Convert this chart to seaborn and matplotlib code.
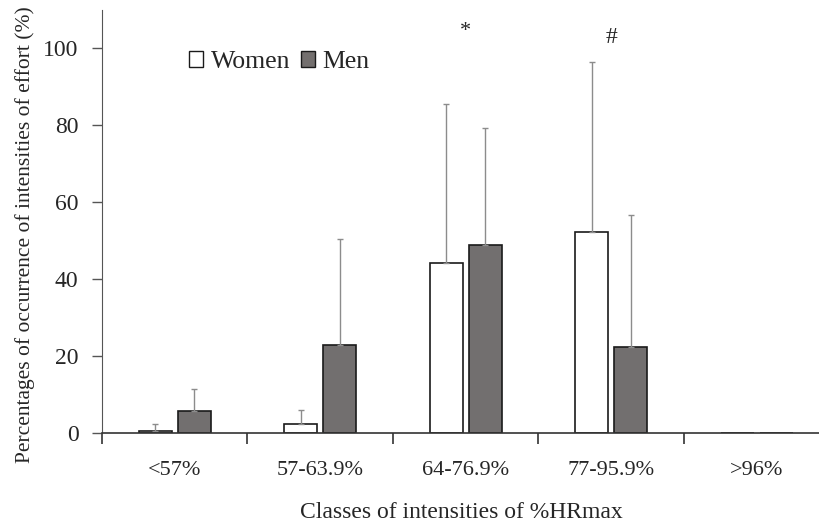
import numpy as np
import pandas as pd
import matplotlib
matplotlib.use('Agg')
import matplotlib.pyplot as plt
import seaborn as sns
from matplotlib.patches import Patch

# Data
classes = ['<57%', '57-63.9%', '64-76.9%', '77-95.9%', '>96%']
women = [0.6, 2.3, 44.3, 52.3, 0.0]
men = [5.8, 23.0, 48.8, 22.3, 0.0]
women_sd = [1.7, 3.6, 41.2, 44.1, 0.0]
men_sd = [5.7, 27.4, 30.4, 34.5, 0.0]
marks = ['', '', '*', '#', '']

df = pd.DataFrame({
    'Class': classes * 2,
    'Pct': women + men,
    'Sex': ['Women'] * len(classes) + ['Men'] * len(classes),
})

sns.set_style('ticks')
plt.rcParams['font.family'] = ['Liberation Serif', 'DejaVu Serif']

fig = plt.figure(figsize=(8.2, 5.25), dpi=100)
ax = fig.add_axes([0.1244, 0.1752, 0.8756, 0.8057])

colors = {'Women': 'white', 'Men': '#736f6e'}
sns.barplot(data=df, x='Class', y='Pct', hue='Sex', order=classes,
            hue_order=['Women', 'Men'], palette=colors, edgecolor='#1a1a1a',
            linewidth=1.2, width=0.536, gap=0.154, errorbar=None,
            legend=False, ax=ax)

# one-sided error bars (upper SD only)
for cont, sd in zip(ax.containers, [women_sd, men_sd]):
    xs, ys, es = [], [], []
    for p, e in zip(cont.patches, sd):
        if e > 0:
            xs.append(p.get_x() + p.get_width() / 2)
            ys.append(p.get_height())
            es.append(e)
    ax.errorbar(xs, ys, yerr=[np.zeros(len(es)), es], fmt='none',
                ecolor='#8c8c8c', elinewidth=1.0, capsize=2.2, capthick=1.0,
                zorder=1)

# significance marks above groups
for i, m in enumerate(marks):
    if m == '*':
        ax.text(i, 102, m, ha='center', va='bottom', fontsize=16)
    elif m:
        ax.text(i, 100.2, m, ha='center', va='bottom', fontsize=17)

ax.set_xlim(-0.5, 4.435)
ax.set_ylim(0, 110)
ax.set_yticks([0, 20, 40, 60, 80, 100])
ax.set_xticks(range(len(classes)))
ax.set_xticklabels(classes)
ax.set_xticks(np.arange(len(classes)) - 0.5, minor=True)
ax.tick_params(axis='x', which='major', length=0, pad=20, labelsize=16)
ax.tick_params(axis='x', which='minor', length=8, width=1.2, color='#333333')
ax.tick_params(axis='y', length=7, width=1.0, color='#555555', labelsize=17,
               pad=10)

for s in ['top', 'right']:
    ax.spines[s].set_visible(False)
ax.spines['left'].set_color('#555555')
ax.spines['bottom'].set_color('#333333')
ax.spines['bottom'].set_linewidth(1.2)

ax.set_xlabel('Classes of intensities of %HRmax', fontsize=17, labelpad=16)
ax.set_ylabel('Percentages of occurrence of intensities of effort (%)',
              fontsize=15.5)
ax.yaxis.set_label_coords(-0.094, 0.468)

handles = [Patch(facecolor='white', edgecolor='#1a1a1a', label='Women'),
           Patch(facecolor='#736f6e', edgecolor='#1a1a1a', label='Men')]
ax.legend(handles=handles, loc='center left', bbox_to_anchor=(0.121, 0.877),
          ncol=2, frameon=False, fontsize=18.5, handlelength=0.55,
          handleheight=0.55, handletextpad=0.3, columnspacing=0.4,
          borderpad=0, borderaxespad=0)

fig.savefig('out.png', dpi=100)
